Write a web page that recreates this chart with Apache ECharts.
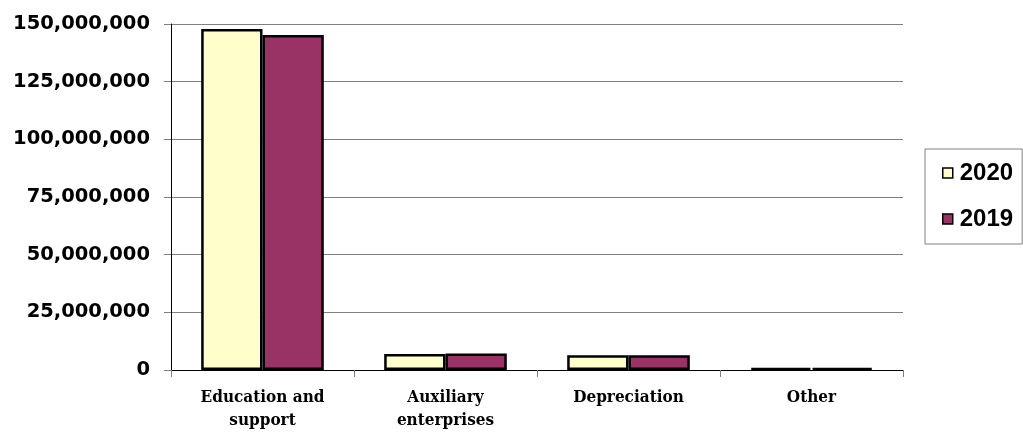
<!DOCTYPE html>
<html><head><meta charset="utf-8">
<script src="https://cdn.jsdelivr.net/npm/echarts@6/dist/echarts.min.js"></script>
<style>html,body{margin:0;padding:0;background:#fff}#c{width:1023px;height:432px}</style>
</head><body><div id="c"></div>
<script>
const categories = ['Education and\nsupport', 'Auxiliary\nenterprises', 'Depreciation', 'Other'];
const seriesNames = ['2020', '2019'];
const values2020 = [147800000, 6900000, 6400000, 900000];
const values2019 = [145200000, 7100000, 6400000, 900000];
const yTicks = { min: 0, max: 150000000, interval: 25000000 };

const chart = echarts.init(document.getElementById('c'), null, { renderer: 'canvas' });
const fmt = v => v.toLocaleString('en-US');
chart.setOption({
  animation: false,
  backgroundColor: '#fff',
  grid: { left: 171, right: 120, top: 24, bottom: 62, containLabel: false },
  legend: {
    orient: 'vertical', left: 925, top: 149,
    padding: [12, 9, 13, 17],
    borderColor: '#808080', borderWidth: 1,
    itemWidth: 10, itemHeight: 10, itemGap: 22,
    icon: 'rect',
    itemStyle: { borderColor: '#000', borderWidth: 1.5 },
    textStyle: { fontFamily: 'Arial, Liberation Sans', fontWeight: 'bold', fontSize: 24, color: '#000', padding: [0, 0, 0, 2] },
    data: seriesNames
  },
  xAxis: {
    type: 'category', data: categories,
    axisLine: { lineStyle: { color: '#000', width: 1 } },
    axisTick: { show: true, length: 7, lineStyle: { color: '#808080' } },
    axisLabel: { margin: 16, lineHeight: 23, color: '#000', fontFamily: 'DejaVu Serif Condensed, DejaVu Serif', fontWeight: 'bold', fontSize: 17, interval: 0 }
  },
  yAxis: {
    type: 'value', min: yTicks.min, max: yTicks.max, interval: yTicks.interval,
    axisLine: { show: true, lineStyle: { color: '#000', width: 1 } },
    axisTick: { show: true, length: 7, lineStyle: { color: '#808080' } },
    splitLine: { lineStyle: { color: '#808080', width: 1 } },
    axisLabel: { margin: 21, color: '#000', fontFamily: 'DejaVu Sans', fontWeight: 'bold', fontSize: 19.5, formatter: fmt }
  },
  series: [
    { name: seriesNames[0], type: 'bar', data: values2020, barGap: '0%', barCategoryGap: '33%',
      itemStyle: { color: '#FFFFCC', borderColor: '#000', borderWidth: 2.5 } },
    { name: seriesNames[1], type: 'bar', data: values2019, barGap: '0%', barCategoryGap: '33%',
      itemStyle: { color: '#993366', borderColor: '#000', borderWidth: 2.5 } }
  ]
});
</script></body></html>
